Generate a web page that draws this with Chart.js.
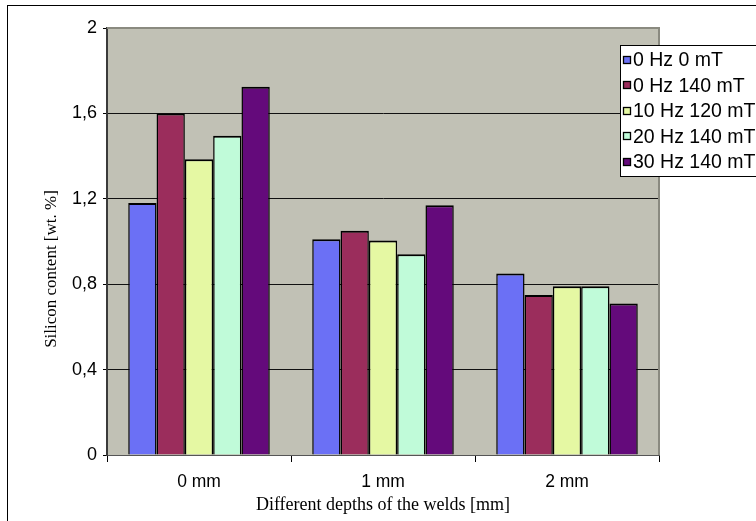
<!DOCTYPE html>
<html>
<head>
<meta charset="utf-8">
<script src="https://cdn.jsdelivr.net/npm/chart.js@4.4.1/dist/chart.umd.min.js"></script>
<style>
  html, body { margin: 0; padding: 0; background: #ffffff; }
  canvas { display: block; }
</style>
</head>
<body>
<canvas id="c" width="756" height="521"></canvas>
<script>
// ---- data ----
const categories = ['0 mm', '1 mm', '2 mm'];
const seriesNames = ['0 Hz 0 mT', '0 Hz 140 mT', '10 Hz 120 mT', '20 Hz 140 mT', '30 Hz 140 mT'];
const s0Hz0mT    = [1.18, 1.01, 0.85];
const s0Hz140mT  = [1.60, 1.05, 0.75];
const s10Hz120mT = [1.385, 1.005, 0.79];
const s20Hz140mT = [1.495, 0.94, 0.79];
const s30Hz140mT = [1.725, 1.17, 0.71];
const yTicks = [0, 0.4, 0.8, 1.2, 1.6, 2];
const yTickLabels = ['0', '0,4', '0,8', '1,2', '1,6', '2'];
const xTitle = 'Different depths of the welds [mm]';
const yTitle = 'Silicon content [wt. %]';

const colors = ['#6b70f5', '#9b2d5c', '#e5f8a3', '#c0fbd9', '#640a7b'];
const values = [s0Hz0mT, s0Hz140mT, s10Hz120mT, s20Hz140mT, s30Hz140mT];

const datasets = seriesNames.map((name, i) => ({
  label: name,
  data: values[i],
  backgroundColor: colors[i],
  borderColor: '#000000',
  borderWidth: {top: 2, left: 1.5, right: 1.5, bottom: 0},
  borderSkipped: false,
  inflateAmount: 0,
  categoryPercentage: 5 / 6.5,
  barPercentage: 1.0
}));

const framePlugin = {
  id: 'frame',
  beforeDraw(chart) {
    const {ctx, chartArea: a} = chart;
    ctx.save();
    ctx.fillStyle = '#ffffff';
    ctx.fillRect(0, 0, chart.width, chart.height);
    ctx.strokeStyle = '#000000';
    ctx.lineWidth = 1;
    ctx.strokeRect(7.5, 5.5, 900, 700);
    ctx.fillStyle = '#c1c1b5';
    ctx.fillRect(a.left, a.top, a.right - a.left, a.bottom - a.top);
    ctx.restore();
  },
  afterDatasetsDraw(chart) {
    const {ctx, chartArea: a} = chart;
    ctx.save();
    ctx.strokeStyle = '#8a8a80';
    ctx.lineWidth = 2;
    ctx.beginPath();
    ctx.moveTo(a.left, a.top);
    ctx.lineTo(a.right, a.top);
    ctx.lineTo(a.right, a.bottom);
    ctx.stroke();
    ctx.restore();
  },
  afterDraw(chart) {
    const {ctx} = chart;
    ctx.save();
    // y axis title
    ctx.translate(52, 269);
    ctx.rotate(-Math.PI / 2);
    ctx.font = '17px "Liberation Serif", "Times New Roman", serif';
    ctx.fillStyle = '#000000';
    ctx.textAlign = 'center';
    ctx.textBaseline = 'middle';
    ctx.fillText(yTitle, 0, 0);
    ctx.restore();

    // legend box
    const x0 = 620.5, y0 = 45.5, w = 200, h = 131;
    ctx.save();
    ctx.fillStyle = '#ffffff';
    ctx.fillRect(x0, y0, w, h);
    ctx.strokeStyle = '#000000';
    ctx.lineWidth = 1;
    ctx.strokeRect(x0, y0, w, h);
    ctx.font = '19.5px "Liberation Sans", Arial, sans-serif';
    ctx.textBaseline = 'middle';
    ctx.textAlign = 'left';
    chart.data.datasets.forEach((ds, i) => {
      const cy = 60 + i * 25.4;
      ctx.fillStyle = ds.backgroundColor;
      ctx.fillRect(623.5, Math.round(cy) - 3.5, 7, 7);
      ctx.strokeStyle = '#000000';
      ctx.lineWidth = 1.3;
      ctx.strokeRect(623.5, Math.round(cy) - 3.5, 7, 7);
      ctx.fillStyle = '#000000';
      ctx.fillText(ds.label, 633, cy + 1);
    });
    ctx.restore();
  }
};

new Chart(document.getElementById('c'), {
  type: 'bar',
  data: { labels: categories, datasets: datasets },
  plugins: [framePlugin],
  options: {
    responsive: false,
    animation: false,
    devicePixelRatio: 1,
    layout: { padding: { left: 0, top: 28, right: 97, bottom: 0 } },
    plugins: {
      legend: { display: false },
      tooltip: { enabled: false },
      title: { display: false }
    },
    scales: {
      x: {
        afterFit(scale) { scale.height = 66; },
        grid: {
          display: true,
          drawOnChartArea: false,
          drawTicks: true,
          tickLength: 7,
          tickColor: '#000000',
          offset: true
        },
        border: { display: true, color: '#555555', width: 1 },
        ticks: {
          color: '#000000',
          padding: 10,
          font: { family: '"Liberation Sans", Arial, sans-serif', size: 17.5 }
        },
        title: {
          display: true,
          text: xTitle,
          color: '#000000',
          font: { family: '"Liberation Serif", "Times New Roman", serif', size: 18 },
          padding: { top: 0, bottom: 5 }
        }
      },
      y: {
        min: 0,
        max: 2,
        afterFit(scale) { scale.width = 107; },
        afterBuildTicks(scale) { scale.ticks = yTicks.map(v => ({ value: v })); },
        grid: {
          color: (c) => (c.tick && c.tick.value === 2 ? 'rgba(0,0,0,0)' : '#111111'),
          lineWidth: 1,
          drawTicks: true,
          tickLength: 4,
          tickColor: '#000000'
        },
        border: { display: true, color: '#3a3a3a', width: 2 },
        ticks: {
          color: '#000000',
          padding: 6,
          font: { family: '"Liberation Sans", Arial, sans-serif', size: 18 },
          callback: (v) => { const i = yTicks.indexOf(v); return i >= 0 ? yTickLabels[i] : ''; }
        },
        title: { display: false }
      }
    }
  }
});
</script>
</body>
</html>
